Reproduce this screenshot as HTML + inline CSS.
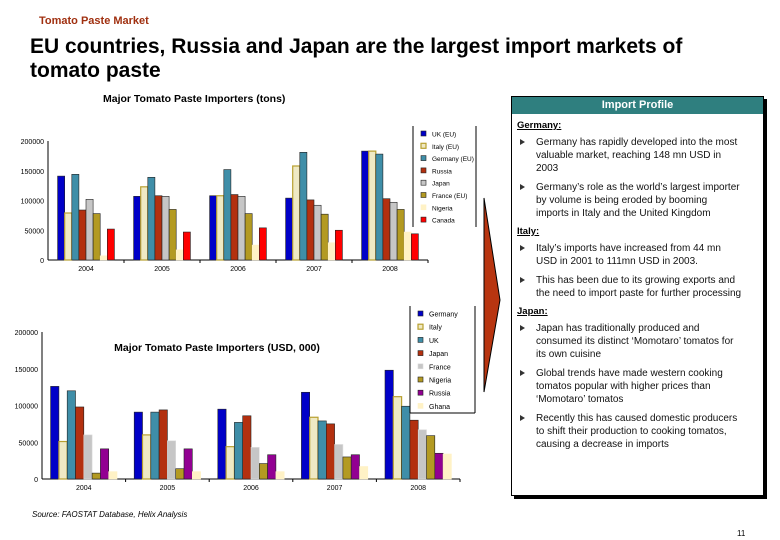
<!DOCTYPE html>
<html><head><meta charset="utf-8"><style>
body{margin:0;background:#fff;font-family:"Liberation Sans",Arial,sans-serif;}
#wrap{position:relative;width:780px;height:540px;overflow:hidden;}
.t{position:absolute;white-space:nowrap;}
#panel{position:absolute;left:511px;top:96px;width:251px;height:398px;border:1px solid #000;box-shadow:3px 3px 0 #000;background:#fff;}
#ph{background:#2f7f7f;color:#fff;font-weight:bold;font-size:11px;text-align:center;height:17px;line-height:17px;}
.sec{font-size:9.5px;font-weight:bold;text-decoration:underline;margin:6px 0 0 5px;line-height:12px;}
.b{font-size:10px;line-height:13px;margin:4px 0 6px 24px;position:relative;color:#111;white-space:nowrap;}
.b:before{content:"";position:absolute;left:-16px;top:3px;border-left:5px solid #333;border-top:3px solid transparent;border-bottom:3px solid transparent;}
</style></head><body><div id="wrap">
<div class="t" style="left:39px;top:15px;font-size:11px;color:#a03010;font-weight:bold">Tomato Paste Market</div>
<div class="t" style="left:30px;top:35px;font-size:21px;font-weight:bold;line-height:24px;color:#000">EU countries, Russia and Japan are the largest import markets of<br>tomato paste</div>
<div class="t" style="left:103px;top:93px;font-size:10.5px;font-weight:bold">Major Tomato Paste Importers (tons)</div>
<svg id="chart" width="780" height="540" style="position:absolute;left:0;top:0"></svg>
<div id="panel">
<div id="ph">Import Profile</div>
<div class="sec">Germany:</div>
<div class="b">Germany has rapidly developed into the most<br>valuable market, reaching 148 mn USD in<br>2003</div>
<div class="b">Germany’s role as the world’s largest importer<br>by volume is being eroded by booming<br>imports in Italy and the United Kingdom</div>
<div class="sec">Italy:</div>
<div class="b">Italy’s imports have increased from 44 mn<br>USD in 2001 to 111mn USD in 2003.</div>
<div class="b">This has been due to its growing exports and<br>the need to import paste for further processing</div>
<div class="sec">Japan:</div>
<div class="b">Japan has traditionally produced and<br>consumed its distinct ‘Momotaro’ tomatos for<br>its own cuisine</div>
<div class="b">Global trends have made western cooking<br>tomatos popular with higher prices than<br>‘Momotaro’ tomatos</div>
<div class="b">Recently this has caused domestic producers<br>to shift their production to cooking tomatos,<br>causing a decrease in imports</div>
</div>
<div class="t" style="left:32px;top:510px;font-size:8px;font-style:italic">Source:  FAOSTAT Database, Helix Analysis</div>
<div class="t" style="left:737px;top:529px;font-size:8px">11</div>
</div>
<script>
const years=["2004","2005","2006","2007","2008"];
const tonsSeries=["UK (EU)","Italy (EU)","Germany (EU)","Russia","Japan","France (EU)","Nigeria","Canada"];
const tonsUK=[141000,107000,108000,104000,183000];
const tonsItaly=[79000,123000,108000,158000,183000];
const tonsGermany=[144000,139000,152000,181000,178000];
const tonsRussia=[84000,108000,110000,101000,103000];
const tonsJapan=[102000,107000,107000,92000,97000];
const tonsFrance=[78000,85000,78000,77000,85000];
const tonsNigeria=[7000,17000,25000,29000,47000];
const tonsCanada=[52000,47000,54000,50000,44000];
const tonsTicks=[0,50000,100000,150000,200000];
const usdSeries=["Germany","Italy","UK","Japan","France","Nigeria","Russia","Ghana"];
const usdGermany=[126000,91000,95000,118000,148000];
const usdItaly=[51000,60000,44000,84000,112000];
const usdUK=[120000,91000,77000,79000,99000];
const usdJapan=[98000,94000,86000,75000,80000];
const usdFrance=[60000,52000,43000,47000,67000];
const usdNigeria=[8000,14000,21000,30000,59000];
const usdRussia=[41000,41000,33000,33000,35000];
const usdGhana=[10000,10000,10000,17000,34000];
const usdTicks=[0,50000,100000,150000,200000];

const NS="http://www.w3.org/2000/svg";
const svg=document.getElementById('chart');
function mk(tag,attrs,parent){const e=document.createElementNS(NS,tag);for(const k in attrs)e.setAttribute(k,attrs[k]);(parent||svg).appendChild(e);return e;}
const C={blue:"#0000c8",cream:"#efe9c4",teal:"#3f8ea8",rust:"#b3300f",grey:"#c6c6c6",olive:"#b39a22",pale:"#fff2c6",red:"#ff0000",purple:"#920092"};
function drawChart(cfg){
  const g=mk('g',{});
  
  
  const y=v=>cfg.y0-(v/200000)*(cfg.y0-cfg.y1);
  const gx=i=>cfg.x0+cfg.gw*(i+0.5);
  cfg.ticks.forEach(t=>{
    const tx=mk('text',{x:cfg.x0-4,y:y(t)+3,'font-size':7,'text-anchor':'end','font-family':'Liberation Sans, sans-serif'},g);
    tx.textContent=t;
    
    
  });
  mk('line',{x1:cfg.x0,y1:cfg.y1,x2:cfg.x0,y2:cfg.y0,stroke:'#000','stroke-width':1},g);
  mk('line',{x1:cfg.x0,y1:cfg.y0,x2:cfg.x0+cfg.gw*5,y2:cfg.y0,stroke:'#000','stroke-width':1},g);
  years.forEach((yr,i)=>{
    const tx=mk('text',{x:gx(i),y:cfg.y0+11,'font-size':7,'text-anchor':'middle','font-family':'Liberation Sans, sans-serif'},g);
    tx.textContent=yr;
    
    
    mk('line',{x1:cfg.x0+cfg.gw*(i+1),y1:cfg.y0,x2:cfg.x0+cfg.gw*(i+1),y2:cfg.y0+3,stroke:'#000'},g);
  });
  cfg.series.forEach((s,si)=>{
    s.vals.forEach((v,i)=>{
      const x=gx(i)-cfg.bw*4+si*cfg.bw;
      const r=mk('rect',{x:x,y:y(v),width:cfg.bw,height:cfg.y0-y(v),fill:s.fill,stroke:s.stroke||'#222','stroke-width':s.sw||0.6},g);
      
      
    });
  });
  const L=cfg.legend;
  mk('rect',{x:L.x,y:L.y,width:L.w,height:L.h,fill:'#fff',stroke:'none'},g);
  mk('line',{x1:L.x,y1:L.y,x2:L.x,y2:L.y+L.h,stroke:'#000'},g);
  mk('line',{x1:L.x+L.w,y1:L.y,x2:L.x+L.w,y2:L.y+L.h,stroke:'#000'},g);
  if(L.bottom)mk('line',{x1:L.x,y1:L.y+L.h,x2:L.x+L.w,y2:L.y+L.h,stroke:'#000'},g);
  cfg.series.forEach((s,si)=>{
    const ly=L.y+8+si*L.step;
    const sw=mk('rect',{x:L.x+8,y:ly-3,width:5,height:5,fill:s.fill,stroke:s.stroke||'#222','stroke-width':s.sw||0.6},g);
    
    
    const tx=mk('text',{x:L.x+19,y:ly+2.5,'font-size':L.fs,'font-family':'Liberation Sans, sans-serif'},g);
    tx.textContent=s.label;
    
    
  });
}
drawChart({name:'tons-chart',x0:48,y0:260,y1:141,gw:76,bw:7.1,ticks:tonsTicks,
  legend:{x:413,y:126,w:63,h:101,step:12.3,fs:6.5,bottom:false},
  series:[
   {label:tonsSeries[0],vals:tonsUK,fill:C.blue},
   {label:tonsSeries[1],vals:tonsItaly,fill:C.cream,stroke:'#b8a030',sw:1.2},
   {label:tonsSeries[2],vals:tonsGermany,fill:C.teal},
   {label:tonsSeries[3],vals:tonsRussia,fill:C.rust},
   {label:tonsSeries[4],vals:tonsJapan,fill:C.grey},
   {label:tonsSeries[5],vals:tonsFrance,fill:C.olive},
   {label:tonsSeries[6],vals:tonsNigeria,fill:C.pale,stroke:'#fff2c6'},
   {label:tonsSeries[7],vals:tonsCanada,fill:C.red}]});
drawChart({name:'usd-chart',x0:42,y0:479,y1:332,gw:83.6,bw:8.3,ticks:usdTicks,
  legend:{x:410,y:306,w:65,h:107,step:13.2,fs:7,bottom:true},
  series:[
   {label:usdSeries[0],vals:usdGermany,fill:C.blue},
   {label:usdSeries[1],vals:usdItaly,fill:C.cream,stroke:'#b8a030',sw:1.2},
   {label:usdSeries[2],vals:usdUK,fill:C.teal},
   {label:usdSeries[3],vals:usdJapan,fill:C.rust},
   {label:usdSeries[4],vals:usdFrance,fill:C.grey,stroke:'#ddd'},
   {label:usdSeries[5],vals:usdNigeria,fill:C.olive},
   {label:usdSeries[6],vals:usdRussia,fill:C.purple},
   {label:usdSeries[7],vals:usdGhana,fill:C.pale,stroke:'#fff2c6'}]});
const t2=mk('text',{x:217,y:351,'font-size':10.5,'font-weight':'bold','text-anchor':'middle','font-family':'Liberation Sans, sans-serif'});
t2.textContent='Major Tomato Paste Importers (USD, 000)';


const ar=mk('polygon',{points:'484,198 500,300 484,392',fill:'#b83510',stroke:'#000','stroke-width':1});


</script>
</body></html>
